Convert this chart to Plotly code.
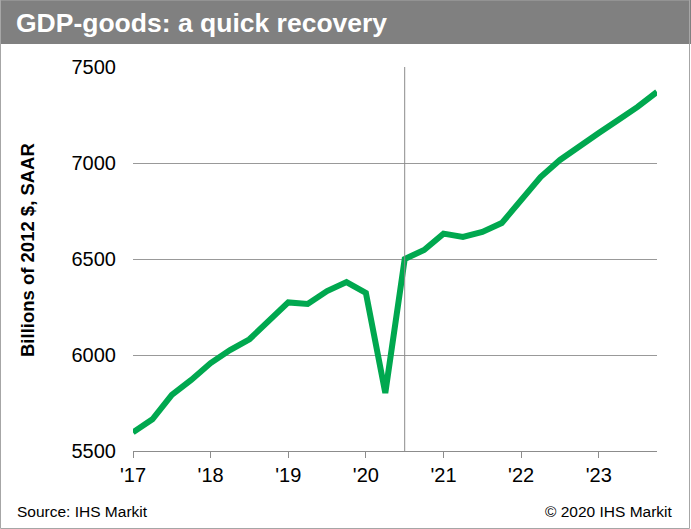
import plotly.graph_objects as go

# Real GDP, goods, quarterly (billions of chained 2012 dollars, SAAR)
quarters = [
    "2017Q1", "2017Q2", "2017Q3", "2017Q4",
    "2018Q1", "2018Q2", "2018Q3", "2018Q4",
    "2019Q1", "2019Q2", "2019Q3", "2019Q4",
    "2020Q1", "2020Q2", "2020Q3", "2020Q4",
    "2021Q1", "2021Q2", "2021Q3", "2021Q4",
    "2022Q1", "2022Q2", "2022Q3", "2022Q4",
    "2023Q1", "2023Q2", "2023Q3", "2023Q4",
]
gdp_goods = [
    5597, 5665, 5792, 5870,
    5958, 6026, 6082, 6182,
    6274, 6266, 6333, 6380,
    6323, 5802, 6500, 6547,
    6632, 6615, 6641, 6687,
    6807, 6927, 7016, 7089,
    7156, 7224, 7292, 7370,
]
year_ticks = [2017, 2018, 2019, 2020, 2021, 2022, 2023]
year_labels = ["'17", "'18", "'19", "'20", "'21", "'22", "'23"]
forecast_start = 2020.5


def to_year(q):
    return int(q[:4]) + (int(q[-1]) - 1) / 4


x_vals = [to_year(q) for q in quarters]

FONT = "Arial, Liberation Sans, sans-serif"
W, H = 691, 529
L, R, T, B = 133, 34, 67, 78
pw, ph = W - L - R, H - T - B


def px_x(p):
    return (p - L) / pw


def px_y(p):
    return (H - B - p) / ph


fig = go.Figure()
fig.add_trace(go.Scatter(
    x=x_vals, y=gdp_goods, mode="lines",
    line=dict(color="#00A84F", width=6),
    hoverinfo="x+y", showlegend=False,
))

shapes = [
    # header bar
    dict(type="rect", xref="paper", yref="paper",
         x0=px_x(0), x1=px_x(W), y0=px_y(44), y1=px_y(0),
         fillcolor="#808080", line=dict(width=0), layer="below"),
    # outer frame
    dict(type="rect", xref="paper", yref="paper",
         x0=px_x(0.5), x1=px_x(689.5), y0=px_y(528.5), y1=px_y(0),
         fillcolor="rgba(0,0,0,0)", line=dict(color="#A6A6A6", width=1)),
    # start of forecast period
    dict(type="line", xref="x", yref="paper",
         x0=forecast_start, x1=forecast_start, y0=0, y1=1,
         line=dict(color="#8C8C8C", width=1)),
]

annotations = [
    dict(text="<b>GDP-goods: a quick recovery</b>", xref="paper", yref="paper",
         x=px_x(14), y=px_y(23), xanchor="left", yanchor="middle",
         showarrow=False, font=dict(family=FONT, size=26.5, color="white")),
    dict(text="<b>Billions of 2012 $, SAAR</b>", xref="paper", yref="paper",
         x=px_x(27), y=px_y(250), xanchor="center", yanchor="middle",
         textangle=-90, showarrow=False,
         font=dict(family=FONT, size=18.5, color="black")),
    dict(text="Source: IHS Markit", xref="paper", yref="paper",
         x=px_x(15), y=px_y(511), xanchor="left", yanchor="middle",
         showarrow=False, font=dict(family=FONT, size=15.5, color="black")),
    dict(text="© 2020 IHS Markit", xref="paper", yref="paper",
         x=px_x(675), y=px_y(511), xanchor="right", yanchor="middle",
         showarrow=False, font=dict(family=FONT, size=15.5, color="black")),
]

fig.update_layout(
    width=W, height=H,
    margin=dict(l=L, r=R, t=T, b=B, pad=0),
    paper_bgcolor="white", plot_bgcolor="white",
    font=dict(family=FONT, color="black"),
    shapes=shapes, annotations=annotations,
    xaxis=dict(
        range=[2017, 2023.75], tickmode="array",
        tickvals=year_ticks, ticktext=year_labels,
        ticks="outside", ticklen=6, tickcolor="#8C8C8C", tickwidth=1,
        showline=True, linecolor="#8C8C8C", linewidth=1,
        showgrid=False, zeroline=False,
        tickfont=dict(family=FONT, size=20, color="black"),
    ),
    yaxis=dict(
        range=[5500, 7500], tickmode="array",
        tickvals=[5500, 6000, 6500, 7000, 7500],
        ticks="", showline=False, zeroline=False,
        showgrid=True, gridcolor="#999999", gridwidth=1,
        ticklabelstandoff=16,
        tickfont=dict(family=FONT, size=20, color="black"),
    ),
)

fig.write_html("out.html")
